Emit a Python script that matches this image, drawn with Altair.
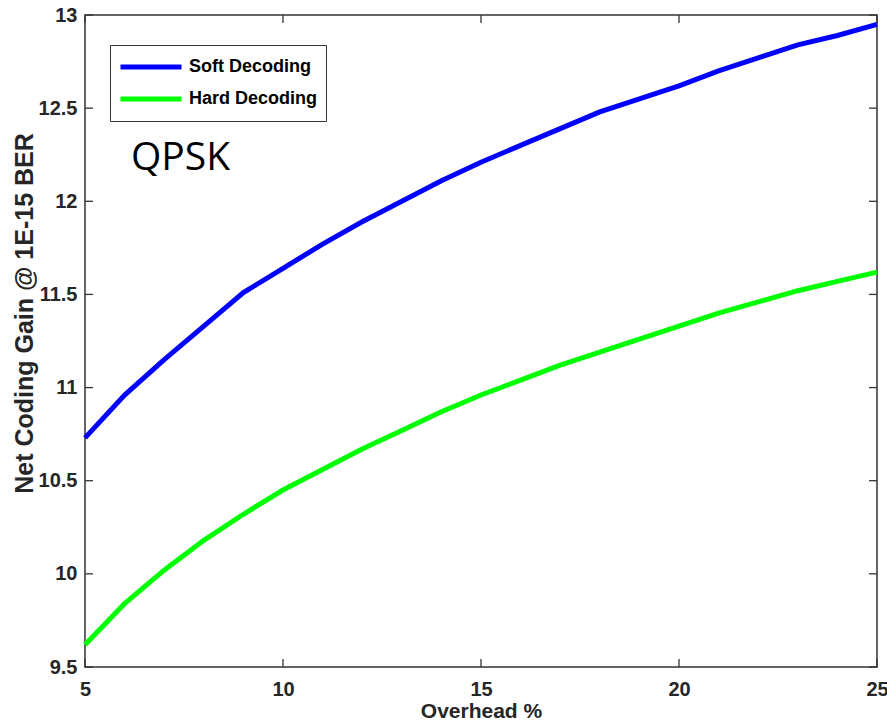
import altair as alt
import pandas as pd

overhead = list(range(5, 26))
soft_gain = [10.73, 10.96, 11.15, 11.33, 11.51, 11.64, 11.77, 11.89, 12.00, 12.11,
             12.21, 12.30, 12.39, 12.48, 12.55, 12.62, 12.70, 12.77, 12.84, 12.89, 12.95]
hard_gain = [9.62, 9.84, 10.02, 10.18, 10.32, 10.45, 10.56, 10.67, 10.77, 10.87,
             10.96, 11.04, 11.12, 11.19, 11.26, 11.33, 11.40, 11.46, 11.52, 11.57, 11.62]
series_names = ["Soft Decoding", "Hard Decoding"]
series_colors = ["#0000FF", "#00FF00"]
x_ticks = [5, 10, 15, 20, 25]
y_ticks = [9.5, 10, 10.5, 11, 11.5, 12, 12.5, 13]
annotation = ["QPSK"]

W, H = 792, 652
AXC = "#333333"
LBL = "#262626"
FONT = "Liberation Sans"

df = pd.DataFrame({
    "Overhead": overhead * 2,
    "Gain": soft_gain + hard_gain,
    "Series": [series_names[0]] * len(overhead) + [series_names[1]] * len(overhead),
})

xscale = alt.Scale(domain=[5, 25], nice=False, zero=False)
yscale = alt.Scale(domain=[9.5, 13], nice=False, zero=False)

xaxis = alt.Axis(values=x_ticks, title="Overhead %", format="d", tickSize=0, domain=False,
                 grid=False, labelPadding=12, labelFontSize=20, labelFont=FONT,
                 labelFontWeight="bold", labelColor=LBL, titleFontSize=21, titleFont=FONT,
                 titleFontWeight="bold", titleColor=LBL, titleY=50, titleBaseline="alphabetic",
                 labelFlush=False, labelOverlap=False)
yaxis = alt.Axis(values=y_ticks, title="Net Coding Gain @ 1E-15 BER", tickSize=0, domain=False,
                 grid=False, labelPadding=8, labelFontSize=20, labelFont=FONT,
                 labelFontWeight="bold", labelColor=LBL, titleFontSize=25, titleFont=FONT,
                 titleFontWeight="bold", titleColor=LBL, titleX=-53, titleY=298,
                 titleBaseline="alphabetic", titleAlign="center", titleAngle=270,
                 labelFlush=False, labelOverlap=False,
                 labelExpr="datum.value == 13 || datum.value == 12 || datum.value == 11 || datum.value == 10 ? format(datum.value, 'd') : format(datum.value, '.1f')")

lines = alt.Chart(df).mark_line(strokeWidth=5).encode(
    x=alt.X("Overhead:Q", scale=xscale, axis=xaxis),
    y=alt.Y("Gain:Q", scale=yscale, axis=yaxis),
    color=alt.Color("Series:N",
                    scale=alt.Scale(domain=series_names, range=series_colors),
                    sort=series_names,
                    legend=alt.Legend(title=None, orient="none", legendX=25, legendY=30,
                                      symbolType="stroke", symbolStrokeWidth=5, symbolSize=3721,
                                      clipHeight=28, rowPadding=4, padding=8, labelOffset=5,
                                      labelFont=FONT, labelFontSize=18, labelFontWeight="bold",
                                      labelColor="#000000", strokeColor=AXC, fillColor="#FFFFFF",
                                      cornerRadius=0)),
)

xt = pd.DataFrame({"Overhead": x_ticks})
yt = pd.DataFrame({"Gain": y_ticks})
tick_style = dict(color=AXC, strokeWidth=1.3)

xb = alt.Chart(xt).mark_rule(**tick_style).encode(
    x=alt.X("Overhead:Q", scale=xscale), y=alt.value(H), y2=alt.value(H - 8))
xtop = alt.Chart(xt).mark_rule(**tick_style).encode(
    x=alt.X("Overhead:Q", scale=xscale), y=alt.value(0), y2=alt.value(8))
yl = alt.Chart(yt).mark_rule(**tick_style).encode(
    y=alt.Y("Gain:Q", scale=yscale), x=alt.value(0), x2=alt.value(8))
yr = alt.Chart(yt).mark_rule(**tick_style).encode(
    y=alt.Y("Gain:Q", scale=yscale), x=alt.value(W), x2=alt.value(W - 8))

label = alt.Chart(pd.DataFrame({"t": annotation})).mark_text(
    font="Open Sans", fontSize=39, align="left", baseline="alphabetic", color="#000000"
).encode(text="t:N", x=alt.value(46), y=alt.value(155))

chart = alt.layer(xb, xtop, yl, yr, lines, label).properties(
    width=W, height=H,
    autosize=alt.AutoSizeParams(type="none"),
    padding={"left": 85, "top": 15, "right": 10, "bottom": 54},
    background="#FFFFFF",
).configure_view(stroke=AXC, strokeWidth=1.5)

chart.save("out.html", embed_options={"renderer": "svg", "actions": False})
